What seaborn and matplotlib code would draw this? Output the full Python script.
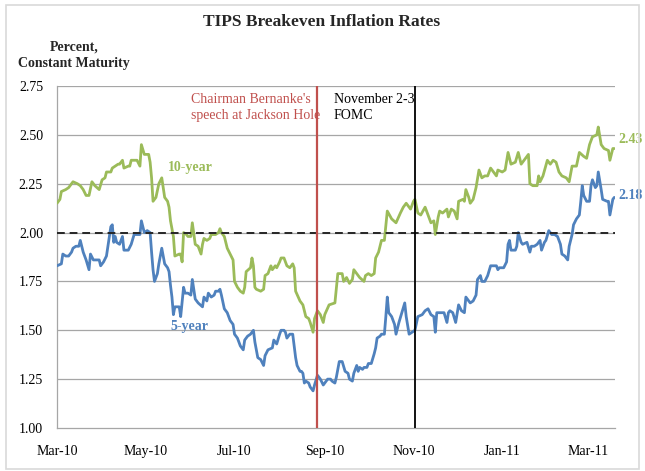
import numpy as np
import pandas as pd
import matplotlib
matplotlib.use("Agg")
import matplotlib.pyplot as plt
import matplotlib.dates as mdates
from matplotlib.patches import Rectangle
import seaborn as sns

# ---------------- data ----------------
start_date = "2010-03-01"
# trading-day positions, as days since 2010-03-01
days_10y = [0, 2, 3, 6, 8, 10, 11, 14, 16, 18, 20, 22, 24, 26, 29, 31, 33, 34, 37, 38,
            40, 42, 43, 45, 46, 49, 50, 51, 54, 55, 57, 58, 60, 63, 64, 65, 66, 68, 70, 72,
            74, 76, 77, 78, 80, 81, 84, 85, 86, 87, 89, 90, 92, 93, 95, 97, 99, 100, 101, 103,
            105, 106, 108, 109, 111, 112, 113, 115, 117, 119, 121, 122, 124, 126, 128, 129, 130, 133, 134, 135,
            136, 137, 140, 142, 143, 145, 147, 148, 150, 151, 153, 154, 156, 158, 160, 162, 163, 164, 167, 169,
            171, 173, 174, 176, 177, 179, 181, 183, 184, 187, 191, 193, 196, 197, 199, 201, 203, 204, 206, 207,
            208, 211, 212, 214, 216, 218, 219, 221, 223, 225, 227, 230, 233, 236, 238, 240, 243, 245, 246, 248,
            250, 253, 255, 257, 259, 260, 262, 263, 265, 268, 269, 271, 273, 275, 276, 279, 280, 281, 283, 284,
            285, 286, 288, 290, 292, 294, 296, 298, 300, 302, 303, 306, 308, 310, 312, 315, 317, 319, 322, 324,
            325, 327, 330, 331, 332, 334, 337, 339, 341, 343, 345, 347, 350, 352, 354, 357, 359, 362, 364, 366,
            368, 371, 372, 374, 376, 379, 380, 382, 383]
values_10y = [2.15, 2.17, 2.21, 2.22, 2.23, 2.25, 2.26, 2.25, 2.24, 2.22, 2.19, 2.19, 2.26, 2.24, 2.22, 2.27, 2.28, 2.31, 2.31, 2.33,
              2.34, 2.35, 2.35, 2.37, 2.33, 2.34, 2.34, 2.37, 2.37, 2.37, 2.34, 2.45, 2.40, 2.40, 2.36, 2.28, 2.16, 2.18, 2.25, 2.28,
              2.18, 2.16, 2.13, 2.06, 1.98, 1.88, 1.89, 1.89, 1.85, 2.00, 1.99, 1.98, 1.98, 2.05, 1.94, 1.93, 1.89, 1.94, 1.97, 1.96,
              1.97, 1.99, 1.99, 1.99, 2.00, 2.02, 2.00, 1.98, 1.92, 1.89, 1.86, 1.75, 1.72, 1.70, 1.69, 1.72, 1.80, 1.82, 1.87, 1.83,
              1.72, 1.71, 1.70, 1.71, 1.78, 1.79, 1.83, 1.81, 1.83, 1.82, 1.85, 1.87, 1.87, 1.83, 1.82, 1.84, 1.82, 1.70, 1.65, 1.63,
              1.57, 1.56, 1.54, 1.49, 1.56, 1.60, 1.58, 1.54, 1.58, 1.63, 1.64, 1.79, 1.79, 1.75, 1.77, 1.74, 1.76, 1.81, 1.79, 1.78,
              1.77, 1.75, 1.78, 1.79, 1.78, 1.79, 1.87, 1.90, 1.96, 1.96, 2.11, 2.07, 2.05, 2.10, 2.13, 2.15, 2.12, 2.16, 2.17, 2.10,
              2.09, 2.13, 2.09, 2.05, 2.06, 1.99, 2.08, 2.11, 2.10, 2.12, 2.08, 2.12, 2.11, 2.07, 2.16, 2.17, 2.16, 2.22, 2.18, 2.15,
              2.16, 2.17, 2.23, 2.32, 2.28, 2.29, 2.29, 2.33, 2.31, 2.29, 2.32, 2.31, 2.32, 2.41, 2.35, 2.36, 2.41, 2.35, 2.38, 2.40,
              2.25, 2.24, 2.24, 2.29, 2.26, 2.29, 2.37, 2.35, 2.37, 2.36, 2.31, 2.29, 2.28, 2.26, 2.34, 2.34, 2.41, 2.39, 2.38, 2.45,
              2.49, 2.50, 2.54, 2.45, 2.43, 2.42, 2.37, 2.43, 2.43]

days_5y = [0, 3, 4, 6, 8, 10, 11, 13, 15, 16, 18, 20, 22, 23, 25, 27, 29, 30, 32, 34,
           35, 37, 38, 39, 40, 41, 43, 45, 46, 49, 51, 53, 55, 57, 58, 60, 62, 64, 65, 66,
           67, 69, 70, 72, 74, 76, 77, 78, 79, 80, 81, 83, 84, 85, 87, 88, 90, 92, 93, 95,
           97, 100, 101, 103, 104, 106, 108, 109, 111, 112, 113, 115, 117, 119, 121, 122, 124, 126, 128, 129,
           131, 133, 135, 136, 138, 140, 142, 143, 145, 148, 149, 151, 153, 154, 156, 157, 158, 160, 162, 164,
           165, 167, 168, 169, 170, 171, 173, 174, 176, 177, 179, 181, 183, 184, 186, 188, 189, 191, 192, 194,
           196, 198, 200, 201, 203, 204, 206, 207, 208, 210, 211, 213, 214, 216, 218, 219, 220, 222, 223, 225,
           226, 227, 228, 230, 232, 233, 235, 237, 239, 240, 242, 244, 246, 248, 251, 253, 255, 257, 259, 260,
           261, 263, 265, 266, 268, 269, 270, 272, 274, 276, 278, 280, 281, 284, 286, 288, 289, 291, 292, 294,
           296, 298, 300, 302, 303, 304, 307, 309, 310, 311, 312, 315, 316, 317, 319, 320, 323, 325, 326, 328,
           330, 332, 333, 335, 336, 338, 340, 342, 344, 346, 347, 349, 351, 352, 354, 355, 357, 359, 360, 361,
           362, 364, 366, 367, 368, 370, 371, 372, 374, 375, 378, 379, 380, 382, 383]
values_5y = [1.83, 1.84, 1.89, 1.88, 1.88, 1.90, 1.92, 1.93, 1.93, 1.96, 1.90, 1.86, 1.81, 1.89, 1.86, 1.86, 1.86, 1.83, 1.85, 1.88,
             1.93, 2.03, 2.04, 1.95, 1.98, 1.95, 1.94, 1.98, 1.91, 1.91, 1.94, 1.99, 1.99, 1.99, 2.06, 2.00, 2.01, 2.00, 1.90, 1.81,
             1.75, 1.79, 1.84, 1.92, 1.84, 1.82, 1.80, 1.73, 1.67, 1.58, 1.62, 1.62, 1.62, 1.57, 1.72, 1.69, 1.69, 1.68, 1.76, 1.66,
             1.64, 1.62, 1.67, 1.65, 1.69, 1.67, 1.68, 1.70, 1.70, 1.71, 1.68, 1.61, 1.59, 1.55, 1.53, 1.48, 1.46, 1.42, 1.40, 1.45,
             1.47, 1.48, 1.50, 1.44, 1.36, 1.35, 1.32, 1.37, 1.40, 1.41, 1.45, 1.43, 1.48, 1.50, 1.50, 1.49, 1.46, 1.48, 1.48, 1.36,
             1.32, 1.29, 1.29, 1.28, 1.23, 1.24, 1.23, 1.21, 1.19, 1.22, 1.27, 1.25, 1.22, 1.23, 1.25, 1.25, 1.24, 1.23, 1.26, 1.34,
             1.34, 1.29, 1.28, 1.25, 1.24, 1.28, 1.32, 1.29, 1.31, 1.30, 1.31, 1.31, 1.33, 1.33, 1.38, 1.41, 1.46, 1.47, 1.48, 1.48,
             1.57, 1.67, 1.59, 1.57, 1.53, 1.48, 1.54, 1.59, 1.64, 1.57, 1.48, 1.49, 1.50, 1.57, 1.58, 1.60, 1.61, 1.58, 1.57, 1.49,
             1.59, 1.59, 1.59, 1.59, 1.54, 1.59, 1.60, 1.59, 1.54, 1.63, 1.60, 1.59, 1.67, 1.64, 1.65, 1.68, 1.76, 1.78, 1.75, 1.75,
             1.78, 1.83, 1.83, 1.83, 1.81, 1.82, 1.82, 1.85, 1.94, 1.96, 1.91, 1.91, 1.93, 2.00, 1.95, 1.94, 1.95, 1.90, 1.93, 1.93,
             1.94, 1.96, 1.91, 1.95, 1.96, 2.01, 1.99, 1.99, 1.98, 1.94, 1.89, 1.88, 1.86, 1.93, 1.99, 2.04, 2.07, 2.09, 2.16, 2.24,
             2.19, 2.16, 2.16, 2.24, 2.27, 2.23, 2.24, 2.31, 2.22, 2.17, 2.16, 2.16, 2.09, 2.17, 2.18]

series_names = ["10-year", "5-year"]
series_colors = ["#9BBB59", "#4F81BD"]
end_labels = ["2.43", "2.18"]
event_dates = ["2010-08-27", "2010-11-02"]
event_labels = ["Chairman Bernanke's\nspeech at Jackson Hole", "November 2-3\nFOMC"]
event_colors = ["#C0504D", "#000000"]
reference_level = 2.00
y_ticks = [1.00, 1.25, 1.50, 1.75, 2.00, 2.25, 2.50, 2.75]
x_tick_dates = ["2010-03-01", "2010-05-01", "2010-07-01", "2010-09-01",
                "2010-11-01", "2011-01-01", "2011-03-01"]
x_tick_labels = ["Mar-10", "May-10", "Jul-10", "Sep-10", "Nov-10", "Jan-11", "Mar-11"]
title = "TIPS Breakeven Inflation Rates"
y_title = "Percent,\nConstant Maturity"

# ---------------- build frame ----------------
t0 = pd.Timestamp(start_date)
df = pd.concat([
    pd.DataFrame({"date": t0 + pd.to_timedelta(days_10y, unit="D"),
                  "value": values_10y, "series": series_names[0]}),
    pd.DataFrame({"date": t0 + pd.to_timedelta(days_5y, unit="D"),
                  "value": values_5y, "series": series_names[1]}),
], ignore_index=True)

# ---------------- style ----------------
sns.set_style("white")
plt.rcParams["font.family"] = ["Liberation Serif", "DejaVu Serif"]

fig = plt.figure(figsize=(6.45, 4.71), dpi=100)
ax = fig.add_axes([57 / 645, 1 - 428 / 471, (615 - 57) / 645, (428 - 86) / 471])

for yv in y_ticks[1:]:
    ax.axhline(yv, color="#A6A6A6", lw=0.9, zorder=1)

sns.lineplot(data=df, x="date", y="value", hue="series",
             palette=dict(zip(series_names, series_colors)),
             linewidth=2.0, estimator=None, legend=False, ax=ax, zorder=3)

ax.axhline(reference_level, color="#262626", lw=1.4, ls=(0, (4, 2.5)), zorder=4)

text_offsets = [1.8, -0.6]
for d, lab, col, off in zip(event_dates, event_labels, event_colors, text_offsets):
    dt = pd.Timestamp(d)
    ax.axvline(dt, color=col, lw=1.6 if col != "#000000" else 1.3, zorder=5)
    ax.text(dt + pd.Timedelta(days=off), 2.713, lab, ha="right", va="top",
            multialignment="left", fontsize=10, color=col, linespacing=1.25, zorder=2)

# series labels
ax.text(t0 + pd.Timedelta(days=76), 2.335, series_names[0], color=series_colors[0],
        fontsize=10, fontweight="bold", ha="left", va="center")
ax.text(t0 + pd.Timedelta(days=78), 1.52, series_names[1], color=series_colors[1],
        fontsize=10, fontweight="bold", ha="left", va="center")
ax.text(t0 + pd.Timedelta(days=386), 2.475, end_labels[0], color=series_colors[0],
        fontsize=10, fontweight="bold", ha="left", va="center", clip_on=False)
ax.text(t0 + pd.Timedelta(days=386), 2.19, end_labels[1], color=series_colors[1],
        fontsize=10, fontweight="bold", ha="left", va="center", clip_on=False)

ax.set_xlim(t0, t0 + pd.Timedelta(days=383.5))
ax.set_ylim(y_ticks[0], y_ticks[-1])
ax.set_yticks(y_ticks)
ax.set_yticklabels([f"{v:.2f}" for v in y_ticks])
ax.set_xticks([pd.Timestamp(d) for d in x_tick_dates])
ax.set_xticklabels(x_tick_labels)
ax.set_xlabel("")
ax.set_ylabel("")

for s in ["top", "right"]:
    ax.spines[s].set_visible(False)
for s in ["left", "bottom"]:
    ax.spines[s].set_color("#A6A6A6")
    ax.spines[s].set_linewidth(0.9)
ax.tick_params(axis="both", direction="out", length=4, width=0.9, color="#A6A6A6",
               labelsize=10, labelcolor="black")
ax.tick_params(axis="x", pad=8)
ax.tick_params(axis="y", pad=6)

fig.text(322 / 645, 1 - 22 / 471, title, ha="center", va="center",
         fontsize=12.5, fontweight="bold")
fig.text(74 / 645, 1 - 55 / 471, y_title, ha="center", va="center",
         fontsize=10, fontweight="bold", linespacing=1.35)

fig.patches.append(Rectangle((6 / 645, 1 - 469 / 471), (639 - 6) / 645, (469 - 5) / 471,
                             transform=fig.transFigure, fill=False,
                             edgecolor="#D9D9D9", lw=1.2))

fig.savefig("out.png", dpi=100)
